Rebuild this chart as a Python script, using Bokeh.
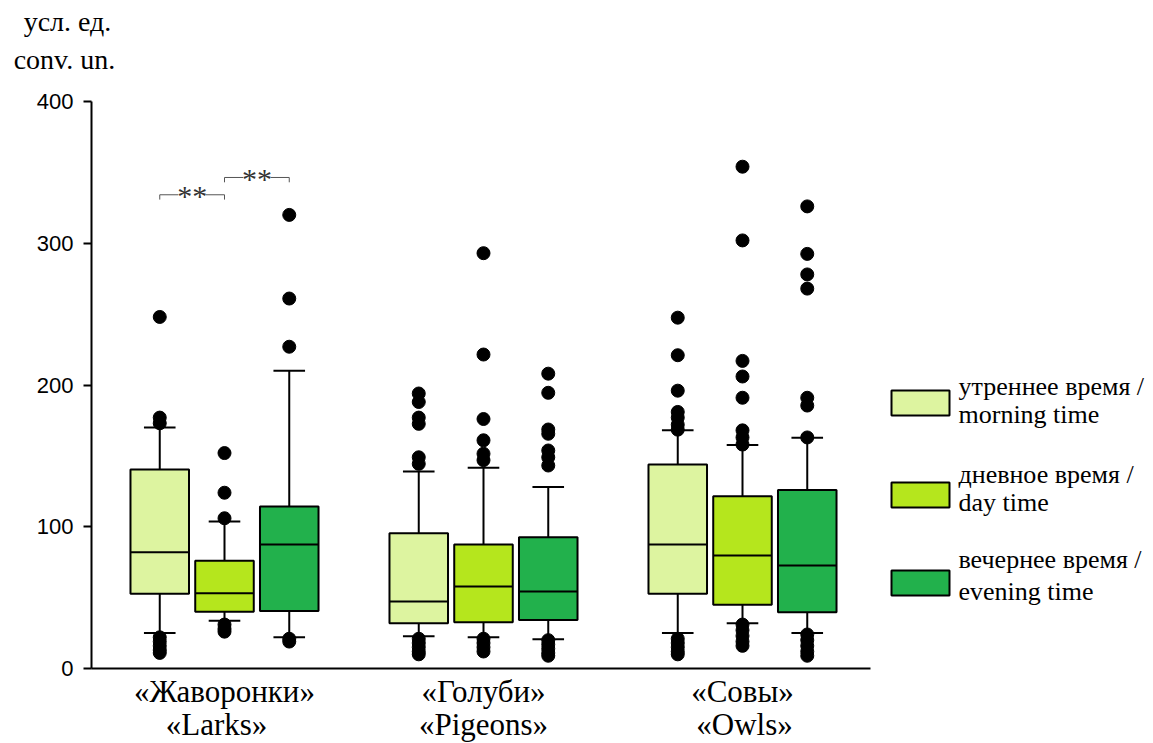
from bokeh.plotting import figure
from bokeh.models import ColumnDataSource, FixedTicker, Range1d
from bokeh.core.properties import value
from bokeh.embed import file_html
from bokeh.resources import INLINE

# ---------------- data ----------------
groups_ru = ["«Жаворонки»", "«Голуби»", "«Совы»"]
groups_en = ["«Larks»", "«Pigeons»", "«Owls»"]
periods_ru = ["утреннее время /", "дневное время /", "вечернее время /"]
periods_en = ["morning time", "day time", "evening time"]
colors = ["#DDF4A0", "#B5E61D", "#22B14C"]
y_ticks = [0, 100, 200, 300, 400]
unit_ru = "усл. ед."
unit_en = "conv. un."

# per group: lists for morning, day, evening
whisk_lo = [[25, 33.6, 22], [22.8, 22, 20.7], [25, 32, 25]]
q1 = [[52.7, 40, 40.5], [32, 32.7, 34.3], [52.7, 45, 39.7]]
median = [[82, 53, 87.5], [47.3, 57.8, 54.3], [87.5, 79.7, 72.7]]
q3 = [[140.4, 76, 114.3], [95.5, 87.5, 92.6], [144, 121.6, 126]]
whisk_hi = [[170, 103.7, 210], [139, 141.6, 128], [168, 157.6, 162.8]]

outliers = [
    [[248, 177, 173, 22, 19, 16, 13, 11],
     [152, 124, 106, 31, 28, 26],
     [320, 261, 227, 21, 19]],
    [[194, 188, 177, 172.6, 149, 144.4, 21, 18, 15, 12, 10],
     [293, 221.5, 176, 161, 151.5, 147, 21, 18, 15, 12],
     [208, 194.5, 168.6, 165.6, 153.8, 149, 143.2, 20, 17, 14, 11, 9]],
    [[247.5, 221, 196, 181, 177, 172, 168.5, 21, 18, 15, 12, 10],
     [354, 302, 217, 206, 191, 168, 163, 158, 31, 27, 23, 19, 16],
     [326, 292.5, 278, 268, 191, 185.5, 163, 24, 20, 16, 12, 9]],
]

# significance marks (Larks): morning-day, day-evening
sig_pairs = [(0, 1), (1, 2)]
sig_level = [334.2, 346.4]
sig_text = ["**", "**"]

# ---------------- layout helpers (page pixels -> data) ----------------
PX_PER_UNIT_X = 259.0
PX_PER_UNIT_Y = 1.4175
IMG_LEFT = 91.0          # y-axis position on the page
IMG_ZERO = 668.0         # x-axis position on the page
X0 = 0.5 - (224.0 - IMG_LEFT) / PX_PER_UNIT_X
BASE_FIX = 9.0           # alphabetic-baseline correction (px)


def dx(img_x):
    return X0 + (img_x - IMG_LEFT) / PX_PER_UNIT_X


def dy(img_y):
    return (IMG_ZERO - img_y) / PX_PER_UNIT_Y


def dyb(img_baseline):
    return dy(img_baseline - BASE_FIX)


W, H = 1150, 743
offsets = [-0.25, 0.0, 0.25]
box_w = 0.226
cap_w = 0.122
en_shift_px = [-8, 0, 2]

p = figure(width=W, height=H, output_backend="svg", toolbar_location=None,
           x_range=Range1d(dx(0), dx(W)), y_range=Range1d(dy(H), dy(0)),
           min_border=0, background_fill_color="white",
           border_fill_color="white", outline_line_color=None)
p.grid.visible = False

# build sources
bx, btop, bbot, bcol, bmed = [], [], [], [], []
ox, oy = [], []
for gi in range(3):
    for si in range(3):
        x = gi + 0.5 + offsets[si]
        bx.append(x)
        btop.append(q3[gi][si])
        bbot.append(q1[gi][si])
        bcol.append(colors[si])
        bmed.append(median[gi][si])
        for v in outliers[gi][si]:
            ox.append(x)
            oy.append(v)

lo = [whisk_lo[g][s] for g in range(3) for s in range(3)]
hi = [whisk_hi[g][s] for g in range(3) for s in range(3)]

src = ColumnDataSource(dict(
    x=bx, top=btop, bottom=bbot, color=bcol, med=bmed, lo=lo, hi=hi,
    cl=[x - cap_w / 2 for x in bx], cr=[x + cap_w / 2 for x in bx],
    bl=[x - box_w / 2 for x in bx], br=[x + box_w / 2 for x in bx],
))

# whiskers
p.segment(x0="x", y0="top", x1="x", y1="hi", source=src, line_color="black", line_width=2)
p.segment(x0="x", y0="bottom", x1="x", y1="lo", source=src, line_color="black", line_width=2)
p.segment(x0="cl", y0="hi", x1="cr", y1="hi", source=src, line_color="black", line_width=2)
p.segment(x0="cl", y0="lo", x1="cr", y1="lo", source=src, line_color="black", line_width=2)
# boxes
p.vbar(x="x", width=box_w, top="top", bottom="bottom", source=src,
       fill_color="color", line_color="black", line_width=2)
# medians
p.segment(x0="bl", y0="med", x1="br", y1="med", source=src, line_color="black", line_width=2)
# outliers
p.scatter(ox, oy, size=13, color="black")

# significance brackets
gap_half = 0.053
tick_len = 3.4
for (a, b), lev, t in zip(sig_pairs, sig_level, sig_text):
    xa = 0.5 + offsets[a]
    xb = 0.5 + offsets[b]
    xm = (xa + xb) / 2
    p.segment(x0=[xa, xm + gap_half, xa, xb], y0=[lev, lev, lev, lev],
              x1=[xm - gap_half, xb, xa, xb], y1=[lev, lev, lev - tick_len, lev - tick_len],
              line_color="#555555", line_width=1)
    p.text(x=[xm], y=[lev - 0.5], text=[t], text_align="center", text_baseline="middle",
           text_font=value("Liberation Serif"), text_font_size="30px", text_color="#333333")

# legend (manual)
sw_top_img = [390, 482, 570]
sw_h = 25
txt1_img = [395, 483, 568]
txt2_img = [423, 511, 600]
for i in range(3):
    p.quad(left=[dx(891)], right=[dx(949)], top=[dy(sw_top_img[i])],
           bottom=[dy(sw_top_img[i] + sw_h)], fill_color=colors[i],
           line_color="black", line_width=2)
    p.text(x=[dx(958)], y=[dyb(txt1_img[i])], text=[periods_ru[i]],
           text_baseline="alphabetic", text_font=value("Liberation Serif"),
           text_font_size="26px", text_color="black")
    p.text(x=[dx(958)], y=[dyb(txt2_img[i])], text=[periods_en[i]],
           text_baseline="alphabetic", text_font=value("Liberation Serif"),
           text_font_size="26px", text_color="black")

# axes at fixed data locations
yax = p.yaxis[0]
yax.fixed_location = X0
yax.bounds = (0, 400)
yax.ticker = FixedTicker(ticks=y_ticks)
yax.minor_tick_line_color = None
yax.major_tick_out = 8
yax.major_tick_in = 0
yax.axis_line_width = 2
yax.major_tick_line_width = 2
yax.major_label_text_font = "Liberation Sans"
yax.major_label_text_font_size = "22px"
yax.major_label_text_color = "black"
yax.major_label_standoff = 10

xax = p.xaxis[0]
xax.fixed_location = 0
xax.bounds = (X0, dx(870))
xax.ticker = FixedTicker(ticks=[])
xax.major_tick_line_color = None
xax.minor_tick_line_color = None
xax.axis_line_width = 2

# category labels
gx = [gi + 0.5 for gi in range(3)]
p.text(x=gx, y=[dyb(700)] * 3, text=groups_ru, text_align="center",
       text_baseline="alphabetic", text_font=value("Liberation Serif"),
       text_font_size="31px", text_color="black")
p.text(x=[g + s / PX_PER_UNIT_X for g, s in zip(gx, en_shift_px)], y=[dyb(733)] * 3,
       text=groups_en, text_align="center",
       text_baseline="alphabetic", text_font=value("Liberation Serif"),
       text_font_size="31px", text_color="black")

# y unit label
p.text(x=[dx(67)], y=[dyb(30)], text=[unit_ru], text_align="center",
       text_baseline="alphabetic", text_font=value("Liberation Serif"),
       text_font_size="28px", text_color="black")
p.text(x=[dx(64)], y=[dyb(68)], text=[unit_en], text_align="center",
       text_baseline="alphabetic", text_font=value("Liberation Serif"),
       text_font_size="28px", text_color="black")

open("out.html", "w").write(file_html(p, INLINE))
